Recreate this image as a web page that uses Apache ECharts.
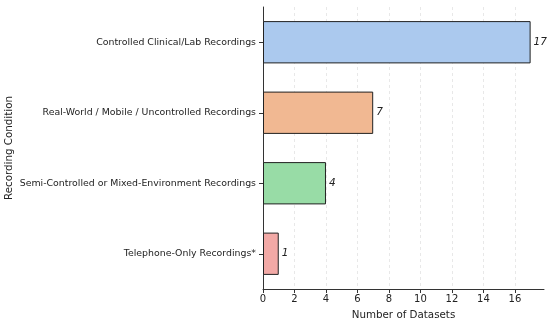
<!DOCTYPE html>
<html>
<head>
<meta charset="utf-8">
<script src="https://cdn.jsdelivr.net/npm/echarts@6/dist/echarts.min.js"></script>
<style>html,body{margin:0;padding:0;background:#fff;}#c{width:550px;height:323px;}</style>
</head>
<body>
<div id="c"></div>
<script>
const categories = ["Controlled Clinical/Lab Recordings", "Real-World / Mobile / Uncontrolled Recordings", "Semi-Controlled or Mixed-Environment Recordings", "Telephone-Only Recordings*"];
const values = [17, 7, 4, 1];
const colors = ["#abc9ee", "#f1b892", "#98dca6", "#f2a9a6"];
const xTicks = [0, 2, 4, 6, 8, 10, 12, 14, 16];

const chart = echarts.init(document.getElementById('c'), null, {renderer: 'canvas'});
const font = 'DejaVu Sans';
chart.setOption({
  animation: false,
  grid: {left: 263, top: 7, right: 6, bottom: 34, outerBoundsMode: 'none', containLabel: false},
  xAxis: {
    type: 'value', min: 0, max: 17.85, interval: 2,
    name: 'Number of Datasets', nameLocation: 'middle', nameGap: 21,
    nameTextStyle: {fontFamily: font, fontSize: 10.3, color: '#222'},
    axisLine: {show: true, lineStyle: {color: '#333', width: 1}},
    axisTick: {show: true, length: 4, lineStyle: {color: '#333'}, customValues: xTicks},
    axisLabel: {fontFamily: font, fontSize: 10, color: '#222', margin: 5, customValues: xTicks},
    splitLine: {show: true, lineStyle: {color: '#e3e3e3', type: [3, 3], width: 0.8}}
  },
  yAxis: {
    type: 'category', data: categories, inverse: true,
    name: 'Recording Condition', nameLocation: 'middle', nameGap: 249, nameRotate: 90,
    nameMoveOverlap: false,
    nameTextStyle: {fontFamily: font, fontSize: 10.3, color: '#222'},
    axisLine: {show: true, lineStyle: {color: '#333', width: 1}},
    axisTick: {show: true, alignWithLabel: true, length: 4, lineStyle: {color: '#333'}},
    axisLabel: {fontFamily: font, fontSize: 9.4, color: '#222', margin: 7},
    splitLine: {show: false}
  },
  series: [{
    type: 'bar',
    data: values.map((v, i) => ({value: v, itemStyle: {color: colors[i]}})),
    barWidth: '60%',
    itemStyle: {borderColor: '#222', borderWidth: 1},
    label: {show: true, position: 'right', distance: 3, fontFamily: font, fontSize: 10.5, fontStyle: 'italic', color: '#222'}
  }]
});
</script>
</body>
</html>
